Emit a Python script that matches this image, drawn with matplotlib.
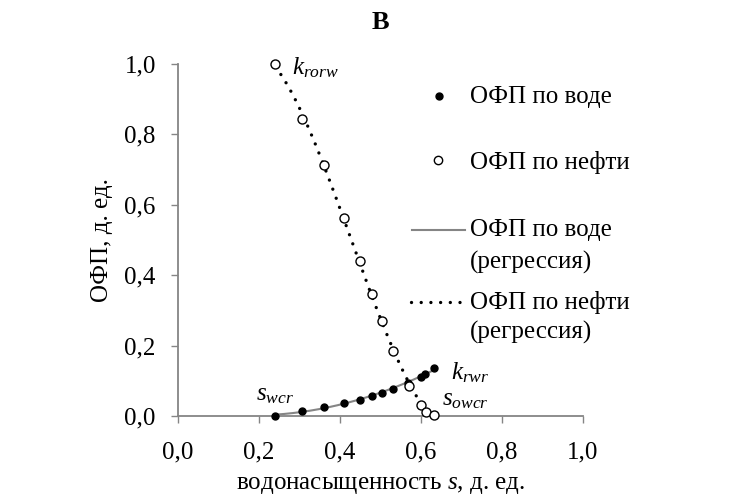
"""
ОФП (relative permeability) curves, water and oil, with regression lines
"""

import numpy as np
import matplotlib
matplotlib.use('Agg')
import matplotlib.pyplot as plt
from matplotlib.lines import Line2D
from matplotlib.ticker import FuncFormatter

plt.rcParams['font.family'] = ['Liberation Serif', 'DejaVu Serif']
plt.rcParams['mathtext.fontset'] = 'custom'
plt.rcParams['mathtext.rm'] = 'Liberation Serif'
plt.rcParams['mathtext.it'] = 'Liberation Serif:italic'
plt.rcParams['font.size'] = 18

# water saturation and relative permeability to water (filled points)
s_water = [0.240, 0.305, 0.361, 0.410, 0.449, 0.478, 0.503, 0.531, 0.568, 0.600, 0.610, 0.632]
k_water = [0.000, 0.015, 0.026, 0.036, 0.046, 0.058, 0.066, 0.077, 0.095, 0.112, 0.118, 0.135]

# water saturation and relative permeability to oil (open points)
s_oil = [0.240, 0.305, 0.361, 0.410, 0.449, 0.478, 0.503, 0.531, 0.570, 0.599, 0.612, 0.632]
k_oil = [1.000, 0.845, 0.712, 0.562, 0.441, 0.346, 0.271, 0.186, 0.086, 0.031, 0.012, 0.002]

ticks = [0.0, 0.2, 0.4, 0.6, 0.8, 1.0]
gray = '#858585'

fig = plt.figure(figsize=(7.44, 4.97), dpi=100)
ax = fig.add_axes([178 / 744, 1 - 416 / 497, 405 / 744, 352 / 497])

# regression curves fitted to the measured points
xw = np.linspace(min(s_water), max(s_water), 200)
yw = np.polyval(np.polyfit(s_water, k_water, 2), xw)
ax.plot(xw, np.clip(yw, 0, None), color=gray, lw=1.5, zorder=2)

xo = np.linspace(min(s_oil), 0.615, 200)
yo = np.polyval(np.polyfit(s_oil, k_oil, 3), xo)
ax.plot(xo, np.clip(yo, 0, None), color='black', lw=2.4,
        linestyle=(0, (0.01, 2.9)), dash_capstyle='round', zorder=3)

ax.plot(s_water, k_water, 'o', color='black', ms=5, clip_on=False, zorder=4)
ax.plot(s_oil, k_oil, 'o', mfc='white', mec='black', mew=1.0, ms=6.5,
        clip_on=False, zorder=5)

ax.set_xlim(0, 1)
ax.set_ylim(0, 1)
ax.set_xticks(ticks)
ax.set_yticks(ticks)
fmt = FuncFormatter(lambda v, p: f'{v:.1f}'.replace('.', ','))
ax.xaxis.set_major_formatter(fmt)
ax.yaxis.set_major_formatter(fmt)
for side in ['top', 'right']:
    ax.spines[side].set_visible(False)
for side in ['left', 'bottom']:
    ax.spines[side].set_color(gray)
    ax.spines[side].set_linewidth(1.3)
ax.tick_params(direction='out', length=5, width=1, color=gray, labelsize=18)
ax.tick_params(axis='y', pad=11)
ax.tick_params(axis='x', pad=13)

ax.set_xlabel('водонасыщенность $s$, д. ед.', fontsize=18, labelpad=8)
ax.set_ylabel('ОФП, д. ед.', fontsize=18, labelpad=8)
ax.set_title('В', fontsize=19, fontweight='bold', pad=25)

# point annotations
ax.annotate('$k_{rorw}$', (s_oil[0], k_oil[0]), xytext=(12, -3),
            textcoords='offset points', fontsize=18, va='center')
ax.annotate('$s_{wcr}$', (s_water[0], k_water[0]), xytext=(-14, 7),
            textcoords='offset points', fontsize=18, va='bottom')
ax.annotate('$k_{rwr}$', (s_water[-1], k_water[-1]), xytext=(12, -3),
            textcoords='offset points', fontsize=18, va='center')
ax.annotate('$s_{owcr}$', (s_oil[-1], k_oil[-1]), xytext=(6, 11),
            textcoords='offset points', fontsize=18, va='center')


# legend on the right, drawn by hand to keep the two-line layout
def fx(px):
    return px / 744


def fy(py):
    return 1 - py / 497


fig.add_artist(Line2D([fx(439)], [fy(96)], marker='o', color='black', ms=5,
                      transform=fig.transFigure))
fig.add_artist(Line2D([fx(438)], [fy(160)], marker='o', mfc='white', mec='black',
                      mew=1.0, ms=6, transform=fig.transFigure))
fig.add_artist(Line2D([fx(412), fx(465)], [fy(230), fy(230)], color=gray, lw=1.5,
                      transform=fig.transFigure))
fig.add_artist(Line2D([fx(411), fx(461)], [fy(302), fy(302)], color='black', lw=2.4,
                      linestyle=(0, (0.01, 2.9)), dash_capstyle='round',
                      transform=fig.transFigure))

legend_rows = [(97, 'ОФП по воде'), (162, 'ОФП по нефти'),
               (230, 'ОФП по воде'), (262, '(регрессия)'),
               (302, 'ОФП по нефти'), (332, '(регрессия)')]
for py, txt in legend_rows:
    fig.text(fx(470), fy(py), txt, fontsize=18, va='center', ha='left')

plt.savefig('out.png', dpi=100)
plt.close()
